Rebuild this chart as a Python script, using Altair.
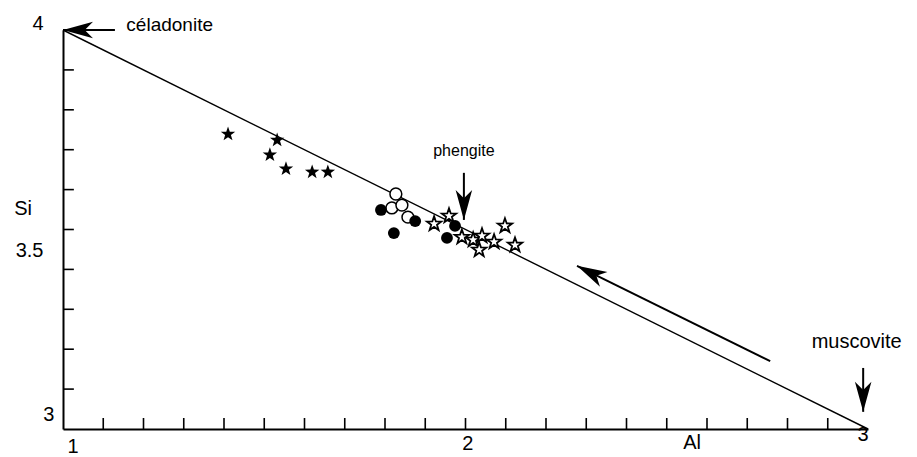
import altair as alt
import pandas as pd

# ---- data ----
filled_star_al = [1.410, 1.532, 1.514, 1.554, 1.619, 1.658]
filled_star_si = [3.739, 3.724, 3.687, 3.652, 3.644, 3.644]

filled_circle_al = [1.790, 1.822, 1.875, 1.974, 1.954]
filled_circle_si = [3.549, 3.491, 3.521, 3.509, 3.479]

open_circle_al = [1.827, 1.817, 1.842, 1.857]
open_circle_si = [3.589, 3.554, 3.561, 3.531]

open_star_al = [1.922, 1.959, 1.991, 2.019, 2.041, 2.034, 2.071, 2.098, 2.123]
open_star_si = [3.514, 3.534, 3.481, 3.474, 3.484, 3.449, 3.469, 3.509, 3.461]

# ideal celadonite-muscovite join
join_al = [1.0, 3.0]
join_si = [4.0, 3.0]

# minor ticks
x_ticks = [1.1, 1.2, 1.3, 1.4, 1.5, 1.6, 1.7, 1.8, 1.9, 2.0,
           2.1, 2.2, 2.3, 2.4, 2.5, 2.6, 2.7, 2.8, 2.9]
y_ticks = [3.1, 3.2, 3.3, 3.4, 3.5, 3.6, 3.7, 3.8, 3.9]

# annotation arrows: shaft start -> tip
arrow_x1 = [1.129, 1.996, 2.988, 2.757]
arrow_y1 = [4.0, 3.642, 3.153, 3.170]
arrow_x2 = [1.0, 1.996, 2.988, 2.277]
arrow_y2 = [4.0, 3.524, 3.043, 3.409]
arrow_angle = [270, 180, 180, 297]

# texts
label_text = ["4", "3.5", "3", "Si", "1", "2", "Al", "3",
              "céladonite", "phengite", "muscovite"]
label_x = [0.938, 0.917, 0.965, 0.901, 1.025, 2.006, 2.563, 2.988,
           1.265, 1.996, 2.972]
label_y = [4.015, 3.446, 3.035, 3.551, 2.955, 2.962, 2.965, 2.985,
           4.0125, 3.697, 3.218]
label_size = [20, 20, 20, 20, 20, 20, 20, 20, 19, 16, 20]

STAR = ("M0,-1 L0.235,-0.324 L0.951,-0.309 L0.380,0.124 L0.588,0.809 "
        "L0,0.40 L-0.588,0.809 L-0.380,0.124 L-0.951,-0.309 L-0.235,-0.324 Z")
ARROW = "M0,0 L0.55,2 L0,1.45 L-0.55,2 Z"

# ---- build tables ----
xs = alt.Scale(domain=[1, 3], nice=False, zero=False)
ys = alt.Scale(domain=[3, 4], nice=False, zero=False)

ax_x = alt.Axis(labels=False, ticks=False, title=None, grid=False,
                domainColor="black", domainWidth=2)
ax_y = alt.Axis(labels=False, ticks=False, title=None, grid=False,
                domainColor="black", domainWidth=2)

df_join = pd.DataFrame({"al": join_al, "si": join_si})
df_xt = pd.DataFrame({"al": x_ticks, "si": [3.0] * len(x_ticks),
                      "si2": [3.0276] * len(x_ticks)})
df_yt = pd.DataFrame({"si": y_ticks, "al": [1.0] * len(y_ticks),
                      "al2": [1.027] * len(y_ticks)})
df_fs = pd.DataFrame({"al": filled_star_al, "si": filled_star_si})
df_fc = pd.DataFrame({"al": filled_circle_al, "si": filled_circle_si})
df_oc = pd.DataFrame({"al": open_circle_al, "si": open_circle_si})
df_os = pd.DataFrame({"al": open_star_al, "si": open_star_si})
df_arr = pd.DataFrame({"x1": arrow_x1, "y1": arrow_y1, "x2": arrow_x2,
                       "y2": arrow_y2, "ang": arrow_angle})
df_lab = pd.DataFrame({"t": label_text, "x": label_x, "y": label_y,
                       "fs": label_size})

line = alt.Chart(df_join).mark_line(color="black", strokeWidth=1.4).encode(
    x=alt.X("al:Q", scale=xs, axis=ax_x),
    y=alt.Y("si:Q", scale=ys, axis=ax_y),
)

xt = alt.Chart(df_xt).mark_rule(color="black", strokeWidth=1.6).encode(
    x=alt.X("al:Q", scale=xs), y=alt.Y("si:Q", scale=ys), y2="si2:Q")
yt = alt.Chart(df_yt).mark_rule(color="black", strokeWidth=1.6).encode(
    y=alt.Y("si:Q", scale=ys), x=alt.X("al:Q", scale=xs), x2="al2:Q")

oc = alt.Chart(df_oc).mark_point(shape="circle", filled=True, fill="white",
                                 stroke="black", strokeWidth=1.5, size=140,
                                 opacity=1).encode(
    x=alt.X("al:Q", scale=xs), y=alt.Y("si:Q", scale=ys))
fc = alt.Chart(df_fc).mark_point(shape="circle", filled=True, color="black",
                                 size=140, opacity=1).encode(
    x=alt.X("al:Q", scale=xs), y=alt.Y("si:Q", scale=ys))
os_ = alt.Chart(df_os).mark_point(shape=STAR, filled=True, fill="white",
                                  stroke="black", strokeWidth=1.8, size=230,
                                  opacity=1).encode(
    x=alt.X("al:Q", scale=xs), y=alt.Y("si:Q", scale=ys))
fs = alt.Chart(df_fs).mark_point(shape=STAR, filled=True, color="black",
                                 size=230, opacity=1).encode(
    x=alt.X("al:Q", scale=xs), y=alt.Y("si:Q", scale=ys))

shafts = alt.Chart(df_arr).mark_rule(color="black", strokeWidth=2).encode(
    x=alt.X("x1:Q", scale=xs), y=alt.Y("y1:Q", scale=ys),
    x2="x2:Q", y2="y2:Q")
heads = alt.Chart(df_arr).mark_point(
    shape=ARROW, filled=True, color="black",
    size=900, opacity=1, strokeWidth=0).encode(
    x=alt.X("x2:Q", scale=xs), y=alt.Y("y2:Q", scale=ys),
    angle=alt.Angle("ang:Q", scale=None))

labels = alt.Chart(df_lab).mark_text(font="Liberation Sans", color="black",
                                     align="center", baseline="middle").encode(
    x=alt.X("x:Q", scale=xs), y=alt.Y("y:Q", scale=ys),
    text="t:N", size=alt.Size("fs:Q", scale=None))

chart = alt.layer(line, xt, yt, oc, fc, os_, fs, shafts, heads, labels).properties(
    width=805, height=399,
    autosize=alt.AutoSizeParams(type="none"),
    padding={"left": 55, "top": 22, "right": 40, "bottom": 28},
    background="white",
).configure_view(stroke=None)

chart.save("out.html", embed_options={"renderer": "svg", "actions": False})
